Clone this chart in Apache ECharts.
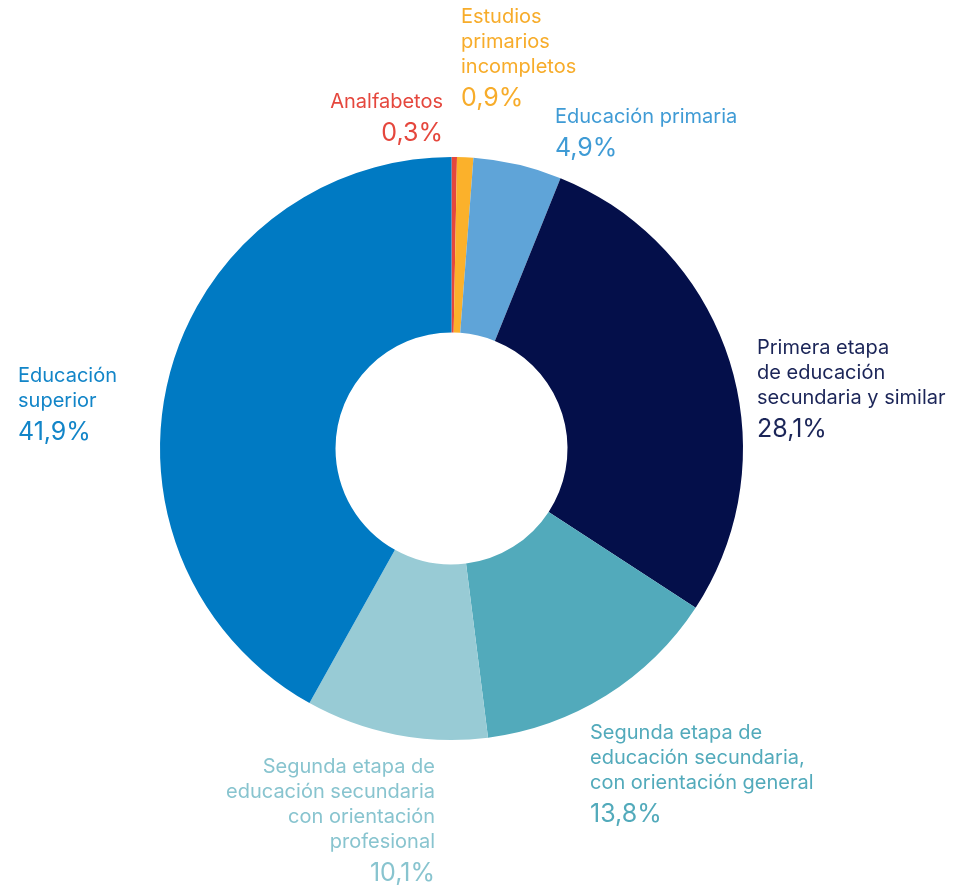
<!DOCTYPE html>
<html>
<head>
<meta charset="utf-8">
<script src="https://cdn.jsdelivr.net/npm/echarts@6/dist/echarts.min.js"></script>
<style>
  html, body { margin: 0; padding: 0; background: #fff; }
  #main { width: 953px; height: 886px; }
</style>
</head>
<body>
<div id="main"></div>
<script>
// datos
var categories = [
  'Analfabetos',
  'Estudios\nprimarios\nincompletos',
  'Educación primaria',
  'Primera etapa\nde educación\nsecundaria y similar',
  'Segunda etapa de\neducación secundaria,\ncon orientación general',
  'Segunda etapa de\neducación secundaria\ncon orientación\nprofesional',
  'Educación\nsuperior'
];
var values = [0.3, 0.9, 4.9, 28.1, 13.8, 10.1, 41.9];

var sliceColors = ['#e5473d', '#fbb12b', '#5fa4d8', '#040f4a', '#52aabb', '#98cbd5', '#007ac3'];
var textColors  = ['#e5473d', '#f7ac2a', '#3f9bd5', '#1b2558', '#52aabb', '#88c4cf', '#1285c8'];

// where each label sits (top-left or top-right corner)
var labelSpots = [
  { x: 443, y: 89,  align: 'right' },
  { x: 461, y: 4,   align: 'left' },
  { x: 555, y: 104, align: 'left' },
  { x: 757, y: 335, align: 'left' },
  { x: 590, y: 720, align: 'left' },
  { x: 435, y: 754, align: 'right' },
  { x: 18,  y: 363, align: 'left' }
];

var myChart = echarts.init(document.getElementById('main'));

var seriesData = values.map(function (v, i) {
  return {
    name: categories[i],
    value: v,
    itemStyle: { color: sliceColors[i] },
    label: {
      color: textColors[i],
      align: labelSpots[i].align,
      rich: {
        n: { fontSize: 20, lineHeight: 25, color: textColors[i], align: labelSpots[i].align, fontFamily: 'Inter' },
        v: { fontSize: 25, lineHeight: 38, color: textColors[i], align: labelSpots[i].align, fontFamily: 'Inter' }
      }
    }
  };
});

var option = {
  animation: false,
  series: [{
    type: 'pie',
    center: [451.5, 448.5],
    radius: [116, 291.5],
    startAngle: 90,
    clockwise: true,
    avoidLabelOverlap: false,
    itemStyle: { borderWidth: 0 },
    labelLine: { show: false },
    label: {
      show: true,
      position: 'outside',
      fontFamily: 'Inter',
      formatter: function (p) {
        var lines = p.name.split('\n').map(function (s) { return '{n|' + s + '}'; });
        return lines.join('\n') + '\n{v|' + String(p.value).replace('.', ',') + '%}';
      }
    },
    labelLayout: function (params) {
      var s = labelSpots[params.dataIndex];
      return { x: s.x, y: s.y, align: s.align, verticalAlign: 'top', hideOverlap: false };
    },
    data: seriesData
  }]
};

myChart.setOption(option);
</script>
</body>
</html>
